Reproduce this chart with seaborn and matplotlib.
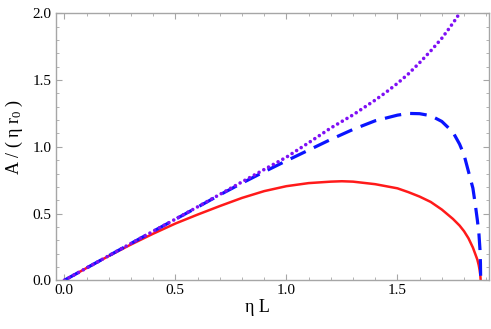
import numpy as np
import pandas as pd
import matplotlib
matplotlib.use("Agg")
import matplotlib.pyplot as plt
from matplotlib.ticker import MultipleLocator
import seaborn as sns

# ---- data ----
red_x = [0.0, 0.1, 0.2, 0.3, 0.4, 0.5, 0.6, 0.7, 0.8, 0.9, 1.0, 1.1, 1.2, 1.25, 1.3, 1.4,
         1.5, 1.55, 1.6, 1.65, 1.7, 1.75, 1.78, 1.8, 1.82, 1.84, 1.85, 1.86, 1.866, 1.87, 1.873, 1.875]
red_y = [0.0, 0.092, 0.182, 0.268, 0.349, 0.425, 0.492, 0.556, 0.617, 0.668, 0.705, 0.728, 0.739, 0.742,
         0.739, 0.72, 0.689, 0.66, 0.627, 0.587, 0.53, 0.46, 0.41, 0.368, 0.315, 0.245, 0.20, 0.155, 0.115,
         0.08, 0.045, 0.0]

dash_x = [0.0, 0.1, 0.2, 0.3, 0.4, 0.5, 0.6, 0.7, 0.8, 0.9, 1.0, 1.1, 1.2, 1.3, 1.4, 1.5, 1.55,
          1.6, 1.65, 1.7, 1.75, 1.78, 1.8, 1.82, 1.84, 1.85, 1.86, 1.867, 1.872, 1.874, 1.875]
dash_y = [0.0, 0.092, 0.184, 0.276, 0.367, 0.457, 0.548, 0.64, 0.728, 0.813, 0.895, 0.975, 1.055, 1.13,
          1.195, 1.237, 1.25, 1.248, 1.233, 1.19, 1.11, 1.02, 0.94, 0.815, 0.69, 0.577, 0.452, 0.352,
          0.227, 0.127, 0.0]

dot_x = [0.0, 0.1, 0.2, 0.3, 0.4, 0.5, 0.6, 0.7, 0.8, 0.9, 1.0, 1.1, 1.2, 1.3, 1.4, 1.45, 1.5,
         1.55, 1.6, 1.65, 1.7, 1.73, 1.76, 1.78, 1.79]
dot_y = [0.0, 0.092, 0.184, 0.276, 0.367, 0.458, 0.55, 0.643, 0.737, 0.83, 0.922, 1.03, 1.141, 1.239,
         1.35, 1.41, 1.475, 1.547, 1.63, 1.718, 1.813, 1.88, 1.95, 2.0, 2.03]

x_ticks = [0.0, 0.5, 1.0, 1.5]
y_ticks = [0.0, 0.5, 1.0, 1.5, 2.0]
x_label = "η L"
y_label = "A / ( η r$_0$ )"

# ---- style ----
sns.set_theme(style="white")
plt.rcParams["font.family"] = ["Liberation Serif", "DejaVu Serif"]
plt.rcParams["mathtext.default"] = "regular"
plt.rcParams["lines.scale_dashes"] = False

frame_col = "#a6a6a6"
fig = plt.figure(figsize=(4.91, 3.29), dpi=100)
ax = fig.add_axes([56 / 491, 1 - 280.3 / 329, (489 - 56) / 491, (280.3 - 13.3) / 329])

sns.lineplot(x=red_x, y=red_y, ax=ax, color="#ff1a1a", linewidth=1.8, sort=False)
sns.lineplot(x=dash_x, y=dash_y, ax=ax, color="#0a14ff", linewidth=2.3, sort=False)
ax.lines[-1].set_dashes([12, 6.5])
sns.lineplot(x=dot_x, y=dot_y, ax=ax, color="#7f10f5", linewidth=2.6, sort=False)
ax.lines[-1].set_dashes([0.01, 3.9])
ax.lines[-1].set_dash_capstyle("round")
ax.lines[-1].set_clip_on(True)

ax.set_xlim(-0.0375, 1.9125)
ax.set_ylim(0, 2.0)
ax.set_xticks(x_ticks)
ax.set_yticks(y_ticks)
ax.set_xticklabels([f"{v:.1f}" for v in x_ticks])
ax.set_yticklabels([f"{v:.1f}" for v in y_ticks])
ax.xaxis.set_minor_locator(MultipleLocator(0.1))
ax.yaxis.set_minor_locator(MultipleLocator(0.1))
ax.tick_params(which="both", direction="in", top=True, right=True, bottom=True, left=True,
               color=frame_col, labelsize=11, labelcolor="black")
ax.tick_params(which="major", length=4, width=0.8, pad=3)
ax.tick_params(which="minor", length=2.2, width=0.6)
for s in ax.spines.values():
    s.set_color(frame_col)
    s.set_linewidth(1.0)

ax.set_xlabel(x_label, fontsize=13, color="black")
ax.xaxis.label.set_va("center")
ax.xaxis.set_label_coords(0.465, -0.1)
ax.set_ylabel(y_label, fontsize=13, color="black")
ax.yaxis.label.set_va("center")
ax.yaxis.set_label_coords(-0.095, 0.535)

fig.savefig("out.png", dpi=100)
